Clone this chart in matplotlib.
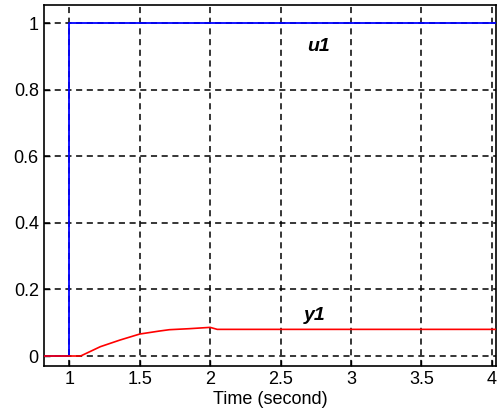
import numpy as np
import matplotlib.pyplot as plt

plt.rcParams['font.family'] = ['Liberation Sans', 'DejaVu Sans']

# input step u1
u_t = [0.82, 1.0, 1.0, 4.05]
u_val = [0.0, 0.0, 1.0, 1.0]

# output y1
y_t = [0.82, 1.0, 1.08, 1.22, 1.36, 1.5, 1.64, 1.71, 1.85, 2.0, 2.05, 4.05]
y_val = [0.0, 0.0, 0.0, 0.028, 0.048, 0.066, 0.075, 0.079, 0.082, 0.086, 0.080, 0.080]

x_ticks = [1, 1.5, 2, 2.5, 3, 3.5, 4]
x_ticklabels = ["1", "1.5", "2", "2.5", "3", "3.5", "4"]
y_ticks = [0, 0.2, 0.4, 0.6, 0.8, 1.0]
y_ticklabels = ["0", "0.2", "0.4", "0.6", "0.8", "1"]

fig = plt.figure(figsize=(4.97, 4.19), dpi=100)
ax = fig.add_axes([0.088, 0.1265, 0.91, 0.8615])

ax.grid(True, color="black", linestyle=(0, (4, 3)), linewidth=1.1, zorder=0)
ax.set_axisbelow(True)

ax.plot(u_t, u_val, color="blue", linewidth=1.3, zorder=3)
ax.plot(y_t, y_val, color="red", linewidth=1.2, zorder=4)

ax.set_xlim(0.818, 4.03)
ax.set_ylim(-0.03, 1.054)
ax.set_xticks(x_ticks)
ax.set_xticklabels(x_ticklabels)
ax.set_yticks(y_ticks)
ax.set_yticklabels(y_ticklabels)
ax.tick_params(direction="in", length=4, labelsize=13, width=1)

for s in ax.spines.values():
    s.set_linewidth(1.2)

ax.text(2.77, 0.928, "u1", fontsize=14, fontweight="bold", fontstyle="italic",
        ha="center", va="center")
ax.text(2.745, 0.122, "y1", fontsize=14, fontweight="bold", fontstyle="italic",
        ha="center", va="center")

ax.set_xlabel("Time (second)", fontsize=13, labelpad=2)

fig.savefig("out.png", dpi=100)
